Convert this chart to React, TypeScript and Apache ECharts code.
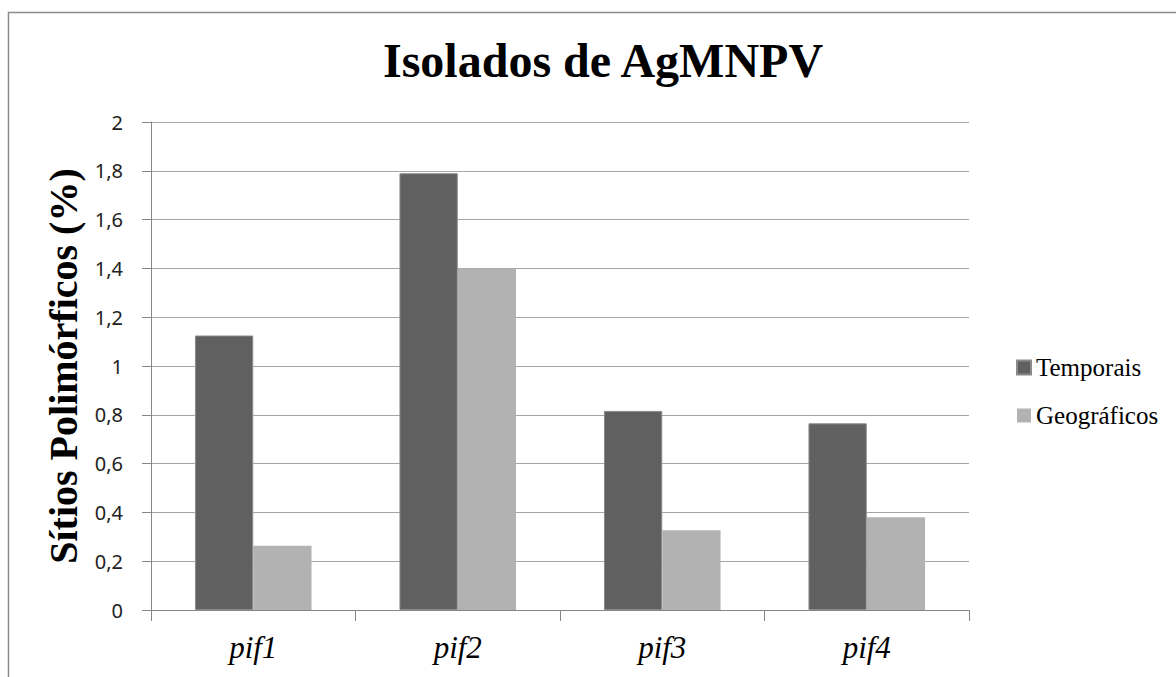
import React, { useEffect, useRef } from "react";
import * as echarts from "echarts";

const categories = ["pif1", "pif2", "pif3", "pif4"];
const temporais = [1.125, 1.79, 0.816, 0.765];
const geograficos = [0.263, 1.4, 0.327, 0.38];
const seriesNames = ["Temporais", "Geográficos"];
const titleText = "Isolados de AgMNPV";
const yAxisTitle = "Sítios Polimórficos (%)";

export default function App() {
  const ref = useRef<HTMLDivElement>(null);
  useEffect(() => {
    if (!ref.current) return;
    const chart = echarts.init(ref.current, null, { renderer: "svg" });
    chart.setOption({
      animation: false,
      backgroundColor: "#ffffff",
      graphic: [
        {
          type: "rect",
          shape: { x: 8.5, y: 12.5, width: 1300, height: 900 },
          style: { fill: "none", stroke: "#8c8c8c", lineWidth: 1.5 },
          silent: true,
        },
      ],
      title: {
        text: titleText,
        left: 378,
        top: 31,
        textStyle: {
          fontFamily: "Liberation Serif",
          fontWeight: "bold",
          fontSize: 48,
          color: "#000",
        },
      },
      legend: {
        orient: "vertical",
        left: 1011,
        top: 350,
        itemWidth: 14,
        itemHeight: 14,
        itemGap: 23,
        icon: "rect",
        data: seriesNames,
        textStyle: {
          fontFamily: "Liberation Serif",
          fontSize: 25,
          color: "#000",
        },
      },
      grid: { left: 151, right: 207, top: 122, bottom: 67 },
      xAxis: {
        type: "category",
        data: categories,
        axisLine: { lineStyle: { color: "#868686", width: 1 } },
        axisTick: { show: true, length: 11, lineStyle: { color: "#868686" } },
        axisLabel: {
          fontFamily: "Liberation Serif",
          fontStyle: "italic",
          fontSize: 31,
          color: "#000",
          margin: 22,
        },
      },
      yAxis: {
        type: "value",
        min: 0,
        max: 2,
        interval: 0.2,
        name: yAxisTitle,
        nameLocation: "middle",
        nameRotate: 90,
        nameGap: 63,
        nameTextStyle: {
          fontFamily: "Liberation Serif",
          fontWeight: "bold",
          fontSize: 40,
          color: "#000",
        },
        axisLine: { show: true, lineStyle: { color: "#868686", width: 1 } },
        axisTick: { show: true, length: 9, lineStyle: { color: "#868686" } },
        splitLine: { lineStyle: { color: "#a6a6a6", width: 1 } },
        axisLabel: {
          fontFamily: "Noto Sans",
          fontSize: 20,
          color: "#222",
          margin: 28,
          formatter: (v: number) => String(Math.round(v * 10) / 10).replace(".", ","),
        },
      },
      series: [
        {
          name: seriesNames[0],
          type: "bar",
          data: temporais,
          barGap: "0%",
          barCategoryGap: "43%",
          itemStyle: { color: "#606060", borderColor: "#8a8a8a", borderWidth: 1 },
        },
        {
          name: seriesNames[1],
          type: "bar",
          data: geograficos,
          itemStyle: { color: "#b2b2b2" },
        },
      ],
    });
    return () => chart.dispose();
  }, []);
  return (
    <div
      ref={ref}
      style={{ position: "fixed", left: 0, top: 0, width: 1176, height: 677 }}
    />
  );
}
